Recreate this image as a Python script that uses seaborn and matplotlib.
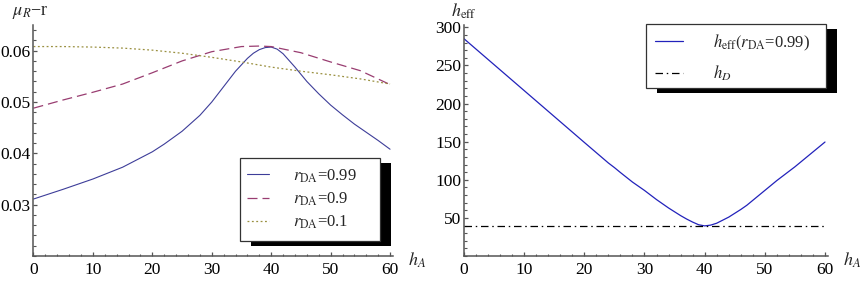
import matplotlib
matplotlib.use("Agg")
import matplotlib.pyplot as plt
import seaborn as sns
from matplotlib.patches import Rectangle
from matplotlib.ticker import MultipleLocator, FixedLocator, FormatStrFormatter

# ---- data ----
hA_099 = [0, 5, 10, 15, 20, 22, 25, 28, 30, 32, 34, 36, 37, 38, 39, 40, 41, 42, 43, 44, 46, 48, 50,
          52, 54, 56, 58, 60]
mu_099 = [0.0311, 0.0330, 0.0350, 0.0373, 0.0403, 0.0418, 0.0443, 0.0474, 0.0500, 0.0530, 0.0560, 0.0585,
          0.0595, 0.0602, 0.0606, 0.0607, 0.0603, 0.0594, 0.0581, 0.0568, 0.0540, 0.0516, 0.0494,
          0.0475, 0.0457, 0.0441, 0.0425, 0.0408]

hA_09 = [0, 5, 10, 15, 20, 25, 30, 35, 38, 40, 45, 50, 55, 60]
mu_09 = [0.0488, 0.0504, 0.0519, 0.0535, 0.0557, 0.0580, 0.0598, 0.0608, 0.0609, 0.0608, 0.0596, 0.0578,
         0.0561, 0.0534]

hA_01 = [0, 5, 10, 15, 20, 25, 30, 35, 40, 45, 50, 55, 60]
mu_01 = [0.0608, 0.0608, 0.0607, 0.0605, 0.0601, 0.0595, 0.0587, 0.0578, 0.0568, 0.0560, 0.0553, 0.0545, 0.0535]

hA_eff = [0, 5, 10, 15, 20, 22, 24, 25, 26, 28, 30, 32, 33, 34, 35, 36, 37, 38, 39, 40,
          41, 42, 43, 44, 45, 46, 47, 48, 49, 50, 51, 52, 53, 54, 55, 56, 57, 58, 59, 60]
h_eff = [285, 251, 217, 183, 149, 135.5, 122, 116, 109.5, 97, 86, 74, 68.5, 63, 58, 53, 48.5, 44.5, 41, 39.5,
         40.5, 43, 47, 51, 56, 61, 66.5, 73, 79.5, 86, 92.5, 99, 105, 111, 117, 123.5, 130, 136.5, 143, 149.5]

hD_x = [0, 60]
hD_y = [40, 40]

labels_left = [r"$r_{\rm DA}$=0.99", r"$r_{\rm DA}$=0.9", r"$r_{\rm DA}$=0.1"]
labels_right = [r"$h_{\rm eff}(r_{\rm DA}$=0.99)", r"$h_D$"]

# ---- style ----
sns.set_style("ticks")
plt.rcParams["font.family"] = ["Liberation Serif", "DejaVu Serif"]
plt.rcParams["mathtext.fontset"] = "stix"
axis_grey = "#555555"

fig = plt.figure(figsize=(8.6, 2.88), dpi=100)
ax1 = fig.add_axes([0.03895, 0.1111, 0.4177, 0.8021])
ax2 = fig.add_axes([0.5395, 0.1111, 0.4233, 0.8021])

# ---- left panel ----
sns.lineplot(x=hA_099, y=mu_099, ax=ax1, color="#3d3d99", linewidth=0.8, label=labels_left[0])
sns.lineplot(x=hA_09, y=mu_09, ax=ax1, color="#993d71", linewidth=0.9,
             linestyle=(0, (8, 4)), label=labels_left[1])
sns.lineplot(x=hA_01, y=mu_01, ax=ax1, color="#9a9040", linewidth=0.9,
             linestyle=(0, (1.5, 2)), label=labels_left[2])
ax1.set_xlim(0, 60.45)
ax1.set_ylim(0.02, 0.065)
ax1.yaxis.set_major_locator(FixedLocator([0.03, 0.04, 0.05, 0.06]))
ax1.yaxis.set_major_formatter(FormatStrFormatter("%.2f"))
ax1.yaxis.set_minor_locator(MultipleLocator(0.002))

# ---- right panel ----
sns.lineplot(x=hA_eff, y=h_eff, ax=ax2, color="#2222bb", linewidth=0.9, label=labels_right[0])
sns.lineplot(x=hD_x, y=hD_y, ax=ax2, color="black", linewidth=0.9,
             linestyle=(0, (6, 3, 1.2, 3)), label=labels_right[1])
ax2.set_xlim(0, 60.5)
ax2.set_ylim(0, 303)
ax2.yaxis.set_major_locator(FixedLocator([50, 100, 150, 200, 250, 300]))
ax2.yaxis.set_minor_locator(MultipleLocator(10))

for ax in (ax1, ax2):
    ax.xaxis.set_major_locator(MultipleLocator(10))
    ax.xaxis.set_minor_locator(MultipleLocator(2))
    for s in ("top", "right"):
        ax.spines[s].set_visible(False)
    for s in ("left", "bottom"):
        ax.spines[s].set_color(axis_grey)
        ax.spines[s].set_linewidth(1.1)
    ax.tick_params(which="both", direction="in", color=axis_grey, labelsize=12.5, labelcolor="black")
    ax.tick_params(which="major", length=3.2, width=0.9)
    ax.tick_params(axis="x", which="major", pad=4)
    ax.tick_params(axis="y", which="major", pad=2)
    ax.tick_params(which="minor", length=1.8, width=0.8)
    ax.set_xlabel("")
    ax.set_ylabel("")
    ax.annotate(r"$h_A$", xy=(1, 0), xycoords="axes fraction", xytext=(11, -3),
                textcoords="offset points", ha="left", va="center", fontsize=13)

ax1.annotate(r"$\mu_R$" + "\u2212r", xy=(0, 1), xycoords="axes fraction", xytext=(-2, 3),
             textcoords="offset points", ha="center", va="bottom", fontsize=13)
ax2.annotate(r"$h_{\rm eff}$", xy=(0, 1), xycoords="axes fraction", xytext=(0, 3),
             textcoords="offset points", ha="center", va="bottom", fontsize=13)

# ---- legends with Mathematica-like shadow boxes ----
leg1 = ax1.legend(loc="center left", bbox_to_anchor=(0.2872, 0.3083), bbox_transform=fig.transFigure,
                  frameon=False, fontsize=12, handlelength=1.32, handletextpad=1.44,
                  labelspacing=0.35, borderpad=0, borderaxespad=0)
leg2 = ax2.legend(loc="center left", bbox_to_anchor=(0.7616, 0.8003), bbox_transform=fig.transFigure,
                  frameon=False, fontsize=12, handlelength=1.68, handletextpad=1.8,
                  labelspacing=0.65, borderpad=0, borderaxespad=0)

boxes = [(ax1, 0.2791, 0.1642, 0.4419, 0.4524), (ax2, 0.7508, 0.6934, 0.9605, 0.9167)]
dx, dy = 11 / 860, 5 / 288
for ax, x0, y0, x1, y1 in boxes:
    ax.add_patch(Rectangle((x0 + dx, y0 - dy), x1 - x0, y1 - y0, transform=fig.transFigure,
                           facecolor="black", edgecolor="none", zorder=4.5, clip_on=False))
    ax.add_patch(Rectangle((x0, y0), x1 - x0, y1 - y0, transform=fig.transFigure,
                           facecolor="white", edgecolor="#333333", linewidth=0.9, zorder=4.6, clip_on=False))

fig.savefig("out.png", dpi=100)
